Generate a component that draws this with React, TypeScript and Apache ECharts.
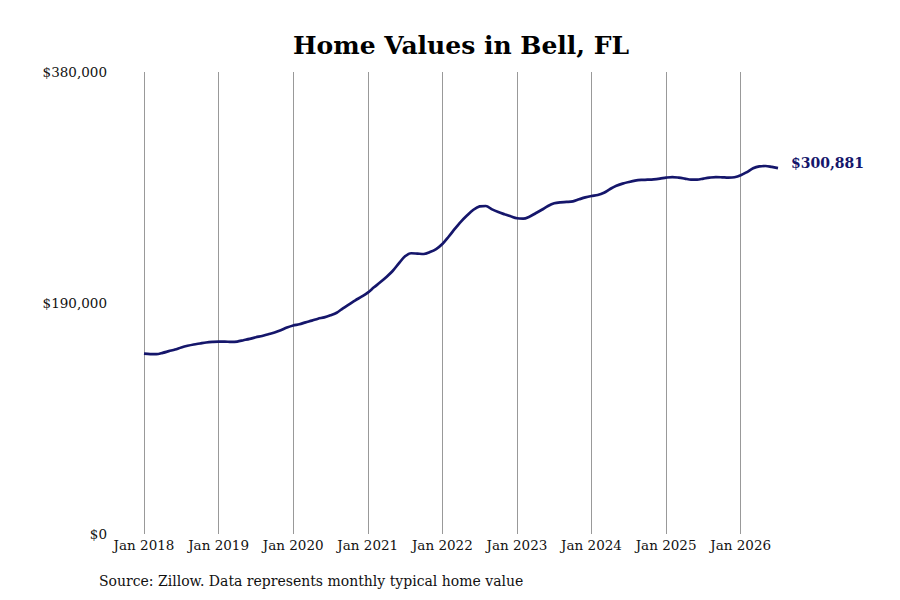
import React, { useEffect, useRef } from "react";
import * as echarts from "echarts";

const years = [2018, 2019, 2020, 2021, 2022, 2023, 2024, 2025, 2026];
const monthNames = ["Jan", "Feb", "Mar", "Apr", "May", "Jun", "Jul", "Aug", "Sep", "Oct", "Nov", "Dec"];

// monthly typical home value, Jan 2018 .. Jul 2026
const values2018 = [148300, 147950, 147950, 149000, 150400, 151700, 153400, 154800, 155900, 156700, 157500, 158000];
const values2019 = [158300, 158300, 158000, 158300, 159400, 160500, 161800, 162900, 164300, 165700, 167600, 169800];
const values2020 = [171500, 172500, 174100, 175500, 177100, 178200, 179900, 182000, 185600, 188900, 192200, 195200];
const values2021 = [198500, 202900, 207000, 211400, 216300, 222600, 228400, 230900, 230600, 230300, 231900, 234400];
const values2022 = [238500, 244500, 250900, 256900, 262100, 266700, 269500, 269800, 267000, 264800, 263000, 261300];
const values2023 = [259700, 259400, 261000, 263800, 266700, 269800, 272000, 272800, 273100, 273600, 275300, 276900];
const values2024 = [278000, 278800, 280700, 283800, 286500, 288200, 289500, 290600, 291200, 291400, 291700, 292300];
const values2025 = [293100, 293600, 293100, 292300, 291400, 291400, 292300, 293100, 293600, 293400, 293100, 293400];
const values2026 = [295000, 297700, 300800, 302400, 302700, 301900, 300881];

const yTicks = [0, 190000, 380000];

const homeValues = [
  ...values2018, ...values2019, ...values2020, ...values2021, ...values2022,
  ...values2023, ...values2024, ...values2025, ...values2026,
];

const categories: string[] = [];
years.forEach((y) => monthNames.forEach((m) => categories.push(m + " " + y)));
categories.length = homeValues.length;

const NAVY = "#15166b";
const FONT = "DejaVu Serif";

const fmtMoney = (v: number) => "$" + Math.round(v).toLocaleString("en-US");

const App = () => {
  const chartRef = useRef<HTMLDivElement>(null);

  useEffect(() => {
    if (!chartRef.current) return;
    const chart = echarts.init(chartRef.current, null, { renderer: "svg" });

    const options = {
      animation: false,
      backgroundColor: "#ffffff",
      title: {
        text: "Home Values in Bell, FL",
        left: 456,
        top: 28,
        textAlign: "center",
        textStyle: { fontFamily: FONT, fontWeight: "bold", fontSize: 25, color: "#000" },
      },
      grid: { left: 144, right: 122, top: 72, bottom: 66, containLabel: false },
      xAxis: {
        type: "category",
        data: categories,
        boundaryGap: false,
        axisLine: { show: false },
        axisTick: { show: false },
        axisLabel: {
          interval: (i: number) => i % 12 === 0,
          margin: 4,
          fontFamily: FONT,
          fontSize: 13.5,
          color: "#111",
        },
        splitLine: {
          show: true,
          interval: (i: number) => i % 12 === 0,
          lineStyle: { color: "#999", width: 1 },
        },
      },
      yAxis: {
        type: "value",
        min: yTicks[0],
        max: yTicks[yTicks.length - 1],
        interval: yTicks[1] - yTicks[0],
        axisLine: { show: false },
        axisTick: { show: false },
        splitLine: { show: false },
        axisLabel: {
          margin: 37,
          fontFamily: FONT,
          fontSize: 13.5,
          color: "#111",
          formatter: (v: number) => fmtMoney(v),
        },
      },
      series: [
        {
          name: "Home Value",
          type: "line",
          data: homeValues,
          smooth: 0.3,
          showSymbol: false,
          lineStyle: { color: NAVY, width: 2.7 },
          itemStyle: { color: NAVY },
          endLabel: {
            show: true,
            distance: 13,
            offset: [0, -5],
            fontFamily: FONT,
            fontWeight: "bold",
            fontSize: 14,
            color: NAVY,
            formatter: (p: any) => fmtMoney(p.value),
          },
        },
      ],
      graphic: [
        {
          type: "text",
          left: 99,
          top: 574,
          style: {
            text: "Source: Zillow. Data represents monthly typical home value",
            fontFamily: FONT,
            fontSize: 14,
            fill: "#111",
          },
        },
      ],
    };

    chart.setOption(options);
    return () => chart.dispose();
  }, []);

  return (
    <div
      ref={chartRef}
      style={{ position: "absolute", left: 0, top: 0, width: "900px", height: "600px" }}
    />
  );
};

export default App;
